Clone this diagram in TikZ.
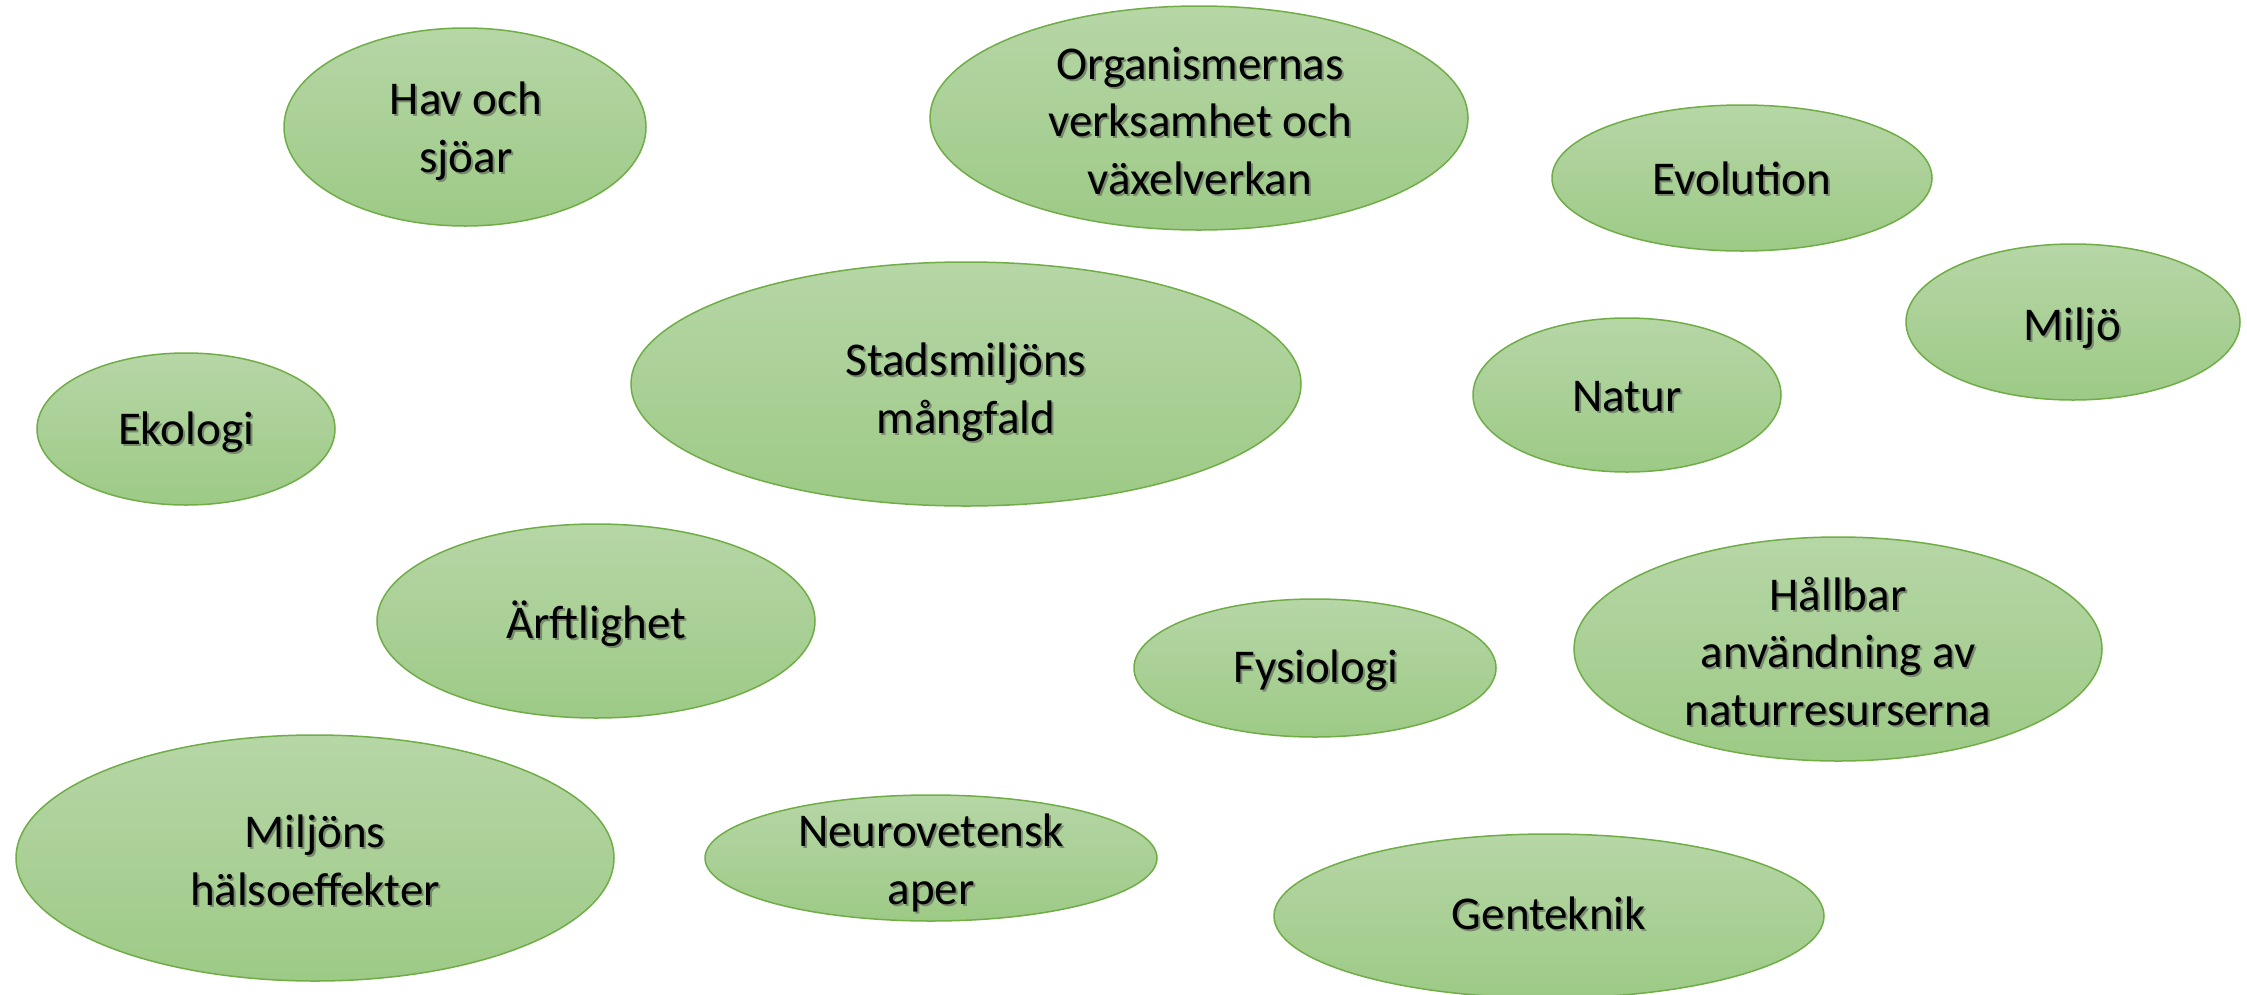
\documentclass[tikz,border=0pt]{standalone}
\usepackage{fontspec}
\setmainfont{Carlito}
\usetikzlibrary{shapes.geometric}
\definecolor{gtop}{RGB}{182,214,166}
\definecolor{gbot}{RGB}{157,202,134}
\definecolor{gline}{RGB}{112,173,71}
\definecolor{shc}{RGB}{118,138,108}
\newcommand\shtx[1]{\strut\rlap{\hspace{2pt}\raisebox{-2pt}{\textcolor{shc}{#1}}}#1}
\begin{document}
\begin{tikzpicture}[x=1pt,y=-1pt,
  bubble/.style={ellipse, draw=gline, line width=1.5pt, top color=gtop, bottom color=gbot, inner sep=0pt},
  lbl/.style={font=\fontsize{47}{57.5}\selectfont, align=center, inner sep=0pt, text=black}]
\useasboundingbox[fill=white] (0,0) rectangle (2247,994);

\node[bubble, minimum width=362pt, minimum height=198pt] (hav) at (465,127) {};
\node[lbl] (havT) at (466,132) {\shtx{Hav och}\\\shtx{sjöar}};

\node[bubble, minimum width=538pt, minimum height=224pt] (org) at (1199,118) {};
\node[lbl] (orgT) at (1200,125) {\shtx{Organismernas}\\\shtx{verksamhet och}\\\shtx{växelverkan}};

\node[bubble, minimum width=380pt, minimum height=146pt] (evo) at (1742,178) {};
\node[lbl] (evoT) at (1742,183) {\shtx{Evolution}};

\node[bubble, minimum width=334pt, minimum height=156pt] (milj) at (2073,322) {};
\node[lbl] (miljT) at (2072,329) {\shtx{Miljö}};

\node[bubble, minimum width=670pt, minimum height=244pt] (stad) at (966,384) {};
\node[lbl] (stadT) at (966,393) {\shtx{Stadsmiljöns}\\\shtx{mångfald}};

\node[bubble, minimum width=308pt, minimum height=154pt] (natur) at (1627,395) {};
\node[lbl] (naturT) at (1627,400) {\shtx{Natur}};

\node[bubble, minimum width=298pt, minimum height=152pt] (eko) at (186,429) {};
\node[lbl] (ekoT) at (186,433) {\shtx{Ekologi}};

\node[bubble, minimum width=438pt, minimum height=194pt] (arf) at (596,621) {};
\node[lbl] (arfT) at (596,627) {\shtx{Ärftlighet}};

\node[bubble, minimum width=362pt, minimum height=138pt] (fys) at (1315,668) {};
\node[lbl] (fysT) at (1316,671) {\shtx{Fysiologi}};

\node[bubble, minimum width=528pt, minimum height=224pt] (hall) at (1838,649) {};
\node[lbl] (hallT) at (1838,656) {\shtx{Hållbar}\\\shtx{användning av}\\\shtx{naturresurserna}};

\node[bubble, minimum width=598pt, minimum height=246pt] (mh) at (315,858) {};
\node[lbl] (mhT) at (315,865) {\shtx{Miljöns}\\\shtx{hälsoeffekter}};

\node[bubble, minimum width=452pt, minimum height=126pt] (neuro) at (931,858) {};
\node[lbl] (neuroT) at (931,864) {\shtx{Neurovetensk}\\\shtx{aper}};

\node[bubble, minimum width=550pt, minimum height=164pt] (gen) at (1549,916) {};
\node[lbl] (genT) at (1549,918) {\shtx{Genteknik}};
\end{tikzpicture}
\end{document}
